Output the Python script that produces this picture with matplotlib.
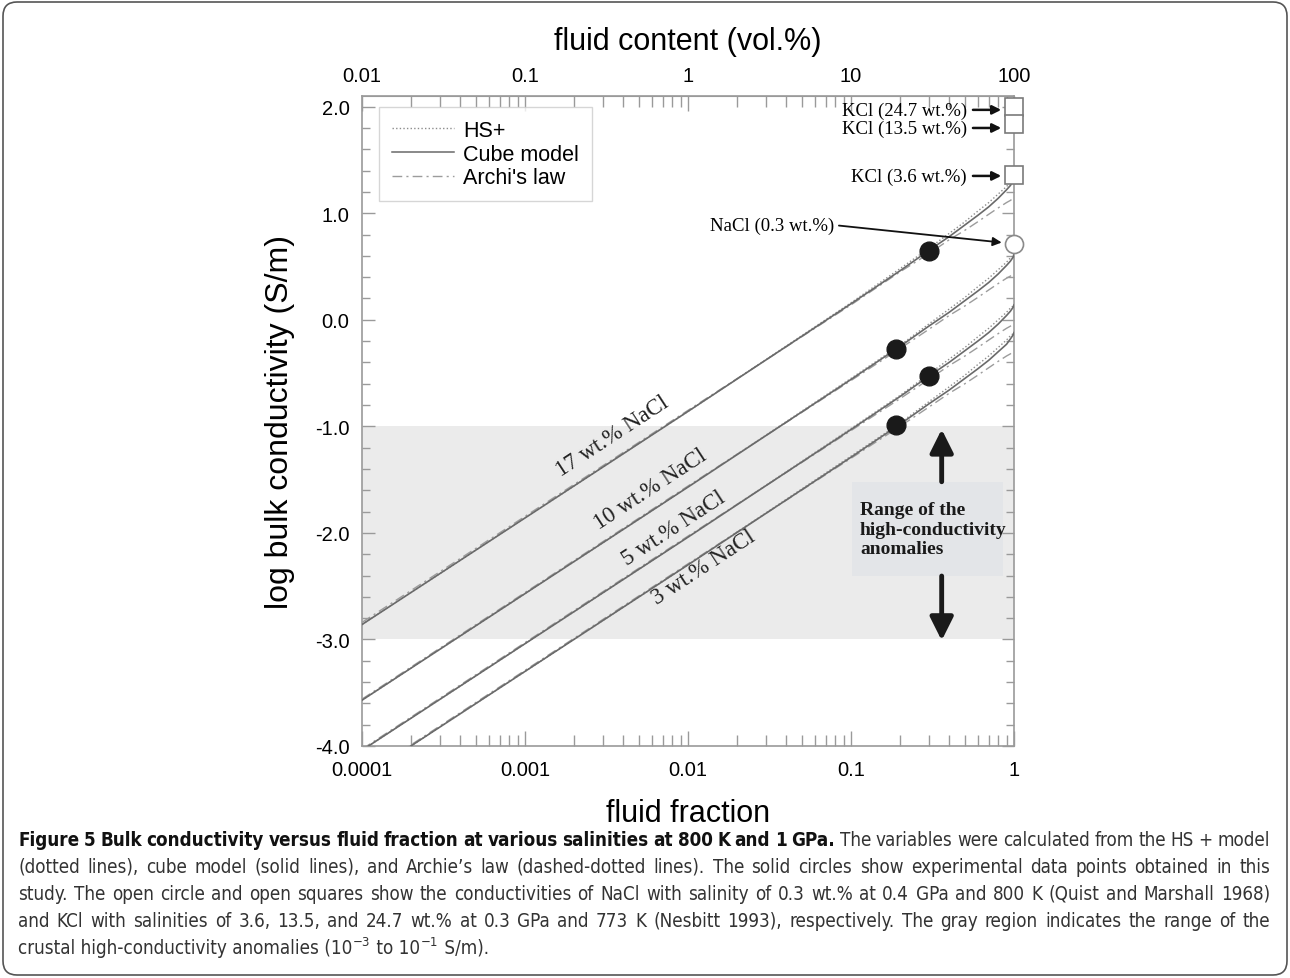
import numpy as np
import matplotlib
matplotlib.use('Agg')
import matplotlib.pyplot as plt
from matplotlib.patches import FancyBboxPatch, Rectangle
from matplotlib.lines import Line2D
from matplotlib.transforms import IdentityTransform
from matplotlib import font_manager

# fluid fraction sample points (x axis)
phi = [1e-4, 1e-2, 0.1, 0.2, 0.3, 0.4, 0.5, 0.6, 0.7, 0.8, 0.9, 0.95, 0.99, 1.0]

# log bulk conductivity, per salinity and model
hs_17 = [-2.86, -0.86, 0.16, 0.48, 0.67, 0.81, 0.92, 1.02, 1.10, 1.18, 1.25, 1.29, 1.31, 1.32]
cube_17 = [-2.86, -0.86, 0.15, 0.46, 0.65, 0.78, 0.89, 0.98, 1.06, 1.14, 1.22, 1.26, 1.30, 1.32]
arch_17 = [-2.84, -0.85, 0.14, 0.45, 0.62, 0.75, 0.84, 0.92, 0.99, 1.05, 1.10, 1.12, 1.14, 1.14]

hs_10 = [-3.57, -1.57, -0.55, -0.24, -0.04, 0.10, 0.21, 0.31, 0.39, 0.47, 0.54, 0.58, 0.60, 0.61]
cube_10 = [-3.57, -1.57, -0.56, -0.25, -0.06, 0.07, 0.18, 0.27, 0.35, 0.43, 0.51, 0.55, 0.59, 0.61]
arch_10 = [-3.56, -1.56, -0.57, -0.27, -0.09, 0.04, 0.13, 0.21, 0.28, 0.34, 0.39, 0.41, 0.43, 0.43]

hs_5 = [-4.04, -2.04, -1.02, -0.71, -0.51, -0.37, -0.26, -0.16, -0.08, 0.00, 0.07, 0.11, 0.13, 0.14]
cube_5 = [-4.04, -2.04, -1.03, -0.72, -0.53, -0.40, -0.29, -0.20, -0.12, -0.04, 0.04, 0.08, 0.12, 0.14]
arch_5 = [-4.03, -2.03, -1.04, -0.74, -0.56, -0.43, -0.34, -0.26, -0.19, -0.13, -0.08, -0.06, -0.04, -0.04]

hs_3 = [-4.30, -2.30, -1.28, -0.97, -0.77, -0.63, -0.52, -0.42, -0.34, -0.26, -0.19, -0.15, -0.13, -0.12]
cube_3 = [-4.30, -2.30, -1.29, -0.98, -0.79, -0.66, -0.55, -0.46, -0.38, -0.30, -0.23, -0.18, -0.14, -0.12]
arch_3 = [-4.29, -2.29, -1.30, -1.00, -0.82, -0.69, -0.60, -0.52, -0.45, -0.39, -0.34, -0.32, -0.30, -0.30]

# experimental points (this study)
exp_phi = [0.3, 0.19, 0.3, 0.19]
exp_logs = [0.65, -0.27, -0.53, -0.99]

# literature values at fluid fraction 1
kcl_labels = ['KCl (24.7 wt.%)', 'KCl (13.5 wt.%)', 'KCl (3.6 wt.%)']
kcl_logs = [2.0, 1.836, 1.358]
kcl_text_y = [1.97, 1.80, 1.35]
nacl_label = 'NaCl (0.3 wt.%)'
nacl_log = 0.707

sal_labels = ['17 wt.% NaCl', '10 wt.% NaCl', '5 wt.% NaCl', '3 wt.% NaCl']
sal_label_x = [0.00342, 0.00585, 0.0082, 0.01253]
sal_label_y = [-1.09, -1.59, -1.955, -2.32]

bottom_ticks = [1e-4, 1e-3, 1e-2, 1e-1, 1]
bottom_labels = ['0.0001', '0.001', '0.01', '0.1', '1']
top_ticks = [0.01, 0.1, 1, 10, 100]
top_labels = ['0.01', '0.1', '1', '10', '100']
y_ticks = [-4, -3, -2, -1, 0, 1, 2]
y_labels = ['-4.0', '-3.0', '-2.0', '-1.0', '0.0', '1.0', '2.0']

sans = 'Liberation Sans'
serif = 'Liberation Serif'

# look for a condensed sans face for the caption
cap_regular, cap_bold_face = None, None
for f in font_manager.fontManager.ttflist:
    narrow = ('Narrow' in f.name or 'Condensed' in f.name or
              str(f.stretch) in ('condensed', 'semi-condensed', '75', '87.5'))
    if not narrow or 'Mono' in f.name or 'Serif' in f.name:
        continue
    if f.style != 'normal':
        continue
    if f.weight in ('bold', 700) and cap_bold_face is None:
        cap_bold_face = f.fname
    elif f.weight in ('normal', 'regular', 400) and cap_regular is None:
        cap_regular = f.fname


def cap_props(size, bold):
    if cap_regular is not None:
        fname = cap_bold_face if (bold and cap_bold_face) else cap_regular
        fp = font_manager.FontProperties(fname=fname, size=size)
        if bold and not cap_bold_face:
            fp.set_weight('bold')
        return fp
    return font_manager.FontProperties(family=sans, size=size,
                                       weight='bold' if bold else 'normal')


plt.rcParams['font.family'] = sans

W, H = 1290, 979
fig = plt.figure(figsize=(W / 100, H / 100), dpi=100)
ax = fig.add_axes([362 / W, 1 - 747 / H, (1014 - 362) / W, (747 - 97) / H])

spine_c = '#9a9a9a'
for s in ax.spines.values():
    s.set_color(spine_c)
    s.set_linewidth(1.2)

# gray band of the anomalies
ax.axhspan(-3, -1, color='#ebebeb', lw=0, zorder=0)
ax.add_patch(Rectangle((0.1015, -2.405), 0.857 - 0.1015, -1.52 + 2.405,
                       facecolor='#e3e5e8', edgecolor='none', zorder=0.5))

hs_c, cube_c, ar_c = '#8c8c8c', '#6a6a6a', '#9c9c9c'
for hs, cu, ar in [(hs_17, cube_17, arch_17), (hs_10, cube_10, arch_10),
                   (hs_5, cube_5, arch_5), (hs_3, cube_3, arch_3)]:
    ax.plot(phi, ar, color=ar_c, lw=1.0, ls=(0, (7, 3, 1.5, 3)), zorder=2)
    ax.plot(phi, hs, color=hs_c, lw=1.0, ls=(0, (1, 1.6)), zorder=2)
    ax.plot(phi, cu, color=cube_c, lw=1.2, ls='-', zorder=3)

ax.plot(exp_phi, exp_logs, 'o', ms=13.5, color='#1a1a1a', zorder=5)
ax.plot([1] * len(kcl_logs), kcl_logs, 's', ms=13, mfc='white', mec='#7a7a7a',
        mew=1.2, zorder=6, clip_on=False)
ax.plot([1], [nacl_log], 'o', ms=13, mfc='white', mec='#8a8a8a', mew=1.2,
        zorder=6, clip_on=False)

for lab, ty in zip(kcl_labels, kcl_text_y):
    ax.annotate('', xy=(0.835, ty), xytext=(0.56, ty),
                arrowprops=dict(arrowstyle='-|>', color='#111111', lw=1.8,
                                mutation_scale=13, shrinkA=0, shrinkB=0), zorder=7)
    ax.text(0.515, ty, lab, ha='right', va='center', family=serif, fontsize=13.5)

ax.annotate('', xy=(0.84, 0.725), xytext=(0.0843, 0.884),
            arrowprops=dict(arrowstyle='-|>', color='#111111', lw=1.3,
                            mutation_scale=13, shrinkA=0, shrinkB=0), zorder=7)
ax.text(0.0787, 0.884, nacl_label, ha='right', va='center', family=serif, fontsize=13.5)

for lab, lx, ly in zip(sal_labels, sal_label_x, sal_label_y):
    ax.text(lx, ly, lab, rotation=33.2, rotation_mode='anchor', ha='center',
            va='center', family=serif, fontsize=16.5, color='#222222', zorder=4)

ax.text(0.1135, -1.966, 'Range of the\nhigh-conductivity\nanomalies', ha='left',
        va='center', family=serif, fontsize=14, fontweight='bold',
        linespacing=1.2, color='#1a1a1a', zorder=4)
ax.annotate('', xy=(0.36, -1.028), xytext=(0.36, -1.52),
            arrowprops=dict(arrowstyle='-|>,head_width=0.35,head_length=0.7',
                            color='#1a1a1a', lw=3.5, mutation_scale=20,
                            shrinkA=0, shrinkB=0), zorder=4)
ax.annotate('', xy=(0.36, -3.01), xytext=(0.36, -2.405),
            arrowprops=dict(arrowstyle='-|>,head_width=0.35,head_length=0.7',
                            color='#1a1a1a', lw=3.5, mutation_scale=20,
                            shrinkA=0, shrinkB=0), zorder=4)

ax.set_xscale('log')
ax.set_xlim(1e-4, 1)
ax.set_ylim(-4, 2.1)
ax.set_xticks(bottom_ticks)
ax.set_xticklabels(bottom_labels)
ax.set_yticks(y_ticks)
ax.set_yticklabels(y_labels)
ax.set_yticks(np.arange(-4, 2.05, 0.2), minor=True)
ax.tick_params(which='both', direction='in', color=spine_c, right=True,
               labelsize=14.5, pad=9)
ax.tick_params(which='major', length=9, width=1)
ax.tick_params(which='minor', length=6, width=1)
ax.tick_params(axis='x', which='minor', length=8)
ax.tick_params(axis='x', which='major', length=11, pad=10)

top = ax.secondary_xaxis('top', functions=(lambda x: x * 100, lambda x: x / 100))
top.set_xscale('log')
top.set_xticks(top_ticks)
top.set_xticklabels(top_labels)
top.tick_params(which='both', direction='in', color=spine_c, labelsize=14.5, pad=8)
top.tick_params(which='major', length=11, width=1)
top.tick_params(which='minor', length=8, width=1)
top.spines['top'].set_color(spine_c)
top.set_xlabel('fluid content (vol.%)', fontsize=22, labelpad=12)

ax.set_xlabel('fluid fraction', fontsize=22, labelpad=14)
ax.set_ylabel('log bulk conductivity (S/m)', fontsize=23, labelpad=14)

handles = [Line2D([], [], color=hs_c, lw=1.0, ls=(0, (1, 1.6))),
           Line2D([], [], color=cube_c, lw=1.1, ls='-'),
           Line2D([], [], color=ar_c, lw=1.0, ls=(0, (7, 3, 1.5, 3)))]
leg = ax.legend(handles, ['HS+', 'Cube model', "Archi's law"], loc='upper left',
                bbox_to_anchor=(0.026, 0.983), borderaxespad=0, fontsize=15.5,
                frameon=True, fancybox=False, handlelength=2.9, handletextpad=0.4,
                labelspacing=0.12, borderpad=0.6)
leg.get_frame().set_edgecolor('#cccccc')
leg.get_frame().set_linewidth(1.0)

# outer rounded frame
fig.add_artist(FancyBboxPatch((3, 3), W - 6, H - 6,
                              boxstyle='round,pad=0,rounding_size=14',
                              transform=IdentityTransform(), fill=False,
                              edgecolor='#555555', lw=1.2))

# caption
cap_bold = 'Figure 5 Bulk conductivity versus fluid fraction at various salinities at 800 K and 1 GPa.'
cap_lines = [
    'The variables were calculated from the HS + model',
    '(dotted lines), cube model (solid lines), and Archie\u2019s law (dashed-dotted lines). The solid circles show experimental data points obtained in this',
    'study. The open circle and open squares show the conductivities of NaCl with salinity of 0.3 wt.% at 0.4 GPa and 800 K (Quist and Marshall 1968)',
    'and KCl with salinities of 3.6, 13.5, and 24.7 wt.% at 0.3 GPa and 773 K (Nesbitt 1993), respectively. The gray region indicates the range of the',
]
cap_last = ['crustal high-conductivity anomalies (10', '\u22123', ' to 10', '\u22121', ' S/m).']
cap_y = [846, 873, 900, 927, 954]
x0, x1 = 18, 1270

fig.canvas.draw()
rend = fig.canvas.get_renderer()


def make_words(words, size, bold_n=0):
    objs = []
    for i, w in enumerate(words):
        t = fig.text(0, 0, w, fontproperties=cap_props(size, i < bold_n),
                     color='#111111' if i < bold_n else '#333333',
                     transform=IdentityTransform(), va='baseline', ha='left')
        objs.append(t)
    return objs


line_words = [cap_bold.split() + cap_lines[0].split()] + [l.split() for l in cap_lines[1:]]
nb = len(cap_bold.split())

# pick caption size so the widest line fits with normal spaces
size = 12.0
widths = []
for k, words in enumerate(line_words):
    objs = make_words(words, size, nb if k == 0 else 0)
    tot = sum(o.get_window_extent(rend).width for o in objs) + 0.24 * size * 1.39 * (len(words) - 1)
    widths.append(tot)
    for o in objs:
        o.remove()
size = size * (x1 - x0) / max(widths) * 0.995

for k, words in enumerate(line_words):
    objs = make_words(words, size, nb if k == 0 else 0)
    ws = [o.get_window_extent(rend).width for o in objs]
    gap = (x1 - x0 - sum(ws)) / (len(words) - 1)
    x = x0
    for o, w in zip(objs, ws):
        o.set_position((x, H - cap_y[k]))
        x += w + gap

# last line, with raised exponents
x = x0
for i, part in enumerate(cap_last):
    sup = i in (1, 3)
    t = fig.text(x, H - cap_y[4] + (0.45 * size * 1.39 if sup else 0), part,
                 fontproperties=cap_props(size * (0.7 if sup else 1.0), False),
                 color='#333333', transform=IdentityTransform(), va='baseline', ha='left')
    x += t.get_window_extent(rend).width + (0.1 * size if sup else 0)

fig.savefig('out.png', dpi=100)
